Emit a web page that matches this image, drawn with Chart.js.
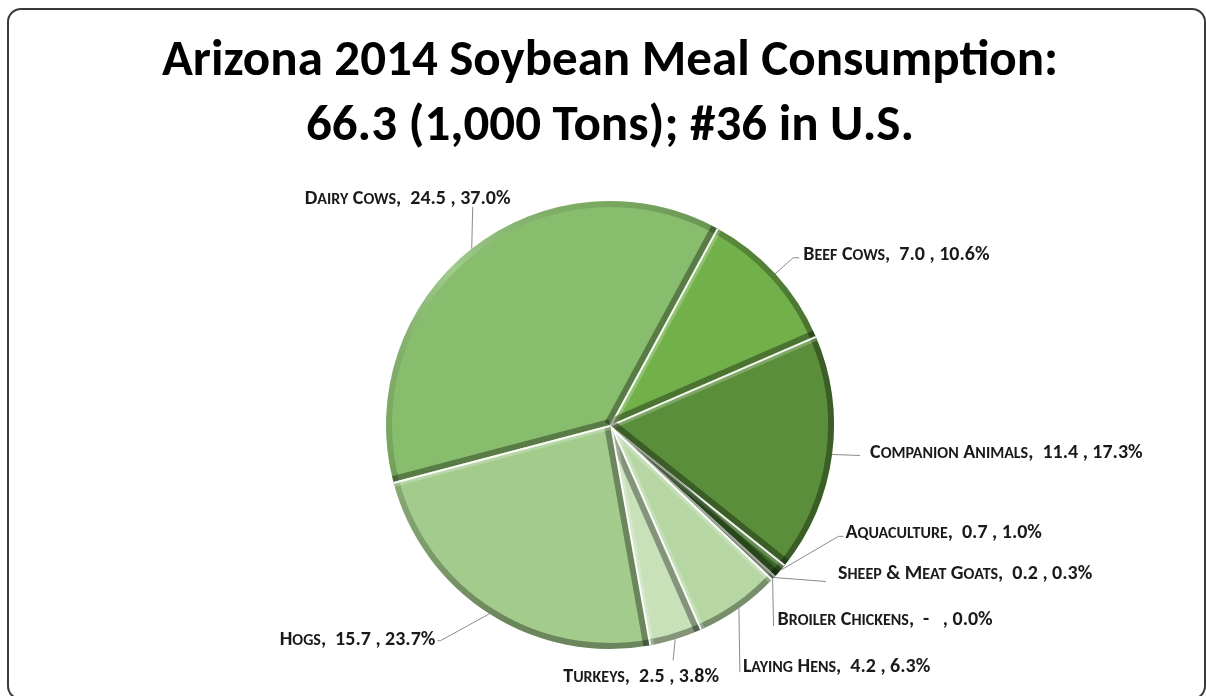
<!DOCTYPE html>
<html>
<head>
<meta charset="utf-8">
<title>Arizona 2014 Soybean Meal Consumption</title>
<script src="https://cdn.jsdelivr.net/npm/chart.js@4.4.1/dist/chart.umd.min.js"></script>
<style>
  html, body { margin: 0; padding: 0; background: #ffffff; }
  #wrap { width: 1206px; height: 696px; position: relative; }
</style>
</head>
<body>
<div id="wrap"><canvas id="chart" width="1206" height="696"></canvas></div>
<script>
// Soybean meal use by animal group, thousand tons
const categories = ['Dairy Cows', 'Beef Cows', 'Companion Animals', 'Aquaculture',
                    'Sheep & Meat Goats', 'Broiler Chickens', 'Laying Hens', 'Turkeys', 'Hogs'];
const tons = [24.5, 7.0, 11.4, 0.7, 0.2, 0, 4.2, 2.5, 15.7];
const shares = ['37.0%', '10.6%', '17.3%', '1.0%', '0.3%', '0.0%', '6.3%', '3.8%', '23.7%'];
const titleLines = ['Arizona 2014 Soybean Meal Consumption:', '66.3 (1,000 Tons); #36 in U.S.'];

// slice fills
const sliceColors = ['#87bd6c', '#72b04a', '#5a8e3a', '#3d6c28', '#8fae82', '#9dbf8a', '#b6d7a3', '#c8e1b9', '#a3cb8c'];

// callout placement relative to the slice's outer mid point:
// text offset, text alignment, and the leader polyline
const callouts = [
  { dx: -167, dy: -52, align: 'left',   leader: [[1, -42]] },
  { dx: 28,   dy: -21, align: 'left',   leader: [[18, -16], [24, -16]] },
  { dx: 38,   dy: -3,  align: 'left',   leader: [[28, 1]] },
  { dx: 65,   dy: -39, align: 'left',   leader: [[58, -34], [63, -34]] },
  { dx: 64,   dy: -6,  align: 'left',   leader: [[52, 4]] },
  { dx: 5,    dy: 39,  align: 'left',   leader: [[1, 47]] },
  { dx: 4,    dy: 57,  align: 'left',   leader: [[1, 64]] },
  { dx: -34,  dy: 36,  align: 'center', leader: [[-2, 21]] },
  { dx: -54,  dy: 24,  align: 'right',  leader: [[-49, 27], [-52, 27]] }
];

const FAMILY = "Carlito, Lato, 'Open Sans', sans-serif";
const LABEL_SIZE = 20;

// white page with a rounded frame
const framePlugin = {
  id: 'frame',
  beforeDraw(chart) {
    const ctx = chart.ctx;
    ctx.save();
    ctx.fillStyle = '#ffffff';
    ctx.fillRect(0, 0, chart.width, chart.height);
    ctx.strokeStyle = '#3a3a3a';
    ctx.lineWidth = 2;
    ctx.beginPath();
    ctx.roundRect(8, 9, 1197, 690, 13);
    ctx.stroke();
    ctx.restore();
  }
};

// soft bevel: a rim band plus lit / shaded radial edges on every slice
const bevelPlugin = {
  id: 'bevel',
  afterDatasetsDraw(chart) {
    const ctx = chart.ctx;
    const meta = chart.getDatasetMeta(0);
    meta.data.forEach((arc) => {
      const { x, y, startAngle, endAngle, outerRadius: R } =
        arc.getProps(['x', 'y', 'startAngle', 'endAngle', 'outerRadius'], true);
      if (endAngle - startAngle < 1e-4) return;
      ctx.save();
      ctx.beginPath();
      ctx.moveTo(x, y);
      ctx.arc(x, y, R, startAngle, endAngle);
      ctx.closePath();
      ctx.clip();

      const g = ctx.createConicGradient(-3 * Math.PI / 4, x, y);
      g.addColorStop(0, 'rgba(255,255,255,0.22)');
      g.addColorStop(0.12, 'rgba(0,0,0,0.10)');
      g.addColorStop(0.3, 'rgba(0,0,0,0.34)');
      g.addColorStop(0.7, 'rgba(0,0,0,0.34)');
      g.addColorStop(0.88, 'rgba(0,0,0,0.10)');
      g.addColorStop(1, 'rgba(255,255,255,0.22)');
      ctx.strokeStyle = g;
      ctx.lineWidth = 12;
      ctx.beginPath();
      ctx.arc(x, y, R, startAngle - 0.05, endAngle + 0.05);
      ctx.stroke();

      const edge = (a, lit) => {
        ctx.beginPath();
        ctx.moveTo(x, y);
        ctx.lineTo(x + R * Math.cos(a), y + R * Math.sin(a));
        if (lit) {
          ctx.strokeStyle = 'rgba(255,255,255,0.22)';
          ctx.lineWidth = 10;
          ctx.stroke();
          ctx.strokeStyle = 'rgba(255,255,255,0.9)';
          ctx.lineWidth = 4;
          ctx.stroke();
        } else {
          ctx.strokeStyle = 'rgba(0,0,0,0.34)';
          ctx.lineWidth = 12;
          ctx.stroke();
        }
      };
      edge(startAngle, Math.cos(startAngle) - Math.sin(startAngle) > 0);
      edge(endAngle, Math.sin(endAngle) - Math.cos(endAngle) > 0);
      ctx.restore();
    });
  }
};

function drawSmallCaps(ctx, text, x, y, size, align) {
  const runs = [];
  for (const ch of text) {
    const small = ch !== ch.toUpperCase();
    const t = small ? ch.toUpperCase() : ch;
    const last = runs[runs.length - 1];
    if (last && last.small === small) last.t += t; else runs.push({ t, small });
  }
  const fontFor = (s) => `bold ${s ? Math.round(size * 0.8) : size}px ${FAMILY}`;
  let w = 0;
  runs.forEach((r) => { ctx.font = fontFor(r.small); r.w = ctx.measureText(r.t).width; w += r.w; });
  let cx = align === 'right' ? x - w : align === 'center' ? x - w / 2 : x;
  ctx.textAlign = 'left';
  ctx.textBaseline = 'alphabetic';
  runs.forEach((r) => { ctx.font = fontFor(r.small); ctx.fillText(r.t, cx, y); cx += r.w; });
}

// data callouts with leader lines
const calloutPlugin = {
  id: 'callouts',
  afterDraw(chart) {
    const ctx = chart.ctx;
    const meta = chart.getDatasetMeta(0);
    ctx.save();
    meta.data.forEach((arc, i) => {
      const { x, y, startAngle, endAngle, outerRadius: R } =
        arc.getProps(['x', 'y', 'startAngle', 'endAngle', 'outerRadius'], true);
      const mid = (startAngle + endAngle) / 2;
      const ax = x + R * Math.cos(mid);
      const ay = y + R * Math.sin(mid);
      const c = callouts[i];
      ctx.strokeStyle = '#8c8c8c';
      ctx.lineWidth = 1;
      ctx.beginPath();
      ctx.moveTo(ax, ay);
      c.leader.forEach(([lx, ly]) => ctx.lineTo(ax + lx, ay + ly));
      ctx.stroke();
      const v = tons[i];
      const valueText = v === 0 ? '-  ' : v.toFixed(1);
      const text = `${categories[i]},  ${valueText} , ${shares[i]}`;
      ctx.fillStyle = '#1a1a1a';
      drawSmallCaps(ctx, text, ax + c.dx, ay + c.dy + Math.round(LABEL_SIZE * 0.36), LABEL_SIZE, c.align);
    });
    ctx.restore();
  }
};

const firstShare = tons[0] / tons.reduce((a, b) => a + b, 0);

new Chart(document.getElementById('chart'), {
  type: 'pie',
  data: {
    labels: categories,
    datasets: [{
      data: tons,
      backgroundColor: sliceColors,
      borderWidth: 0
    }]
  },
  options: {
    responsive: false,
    animation: false,
    // the first slice ends 28.5 degrees past twelve o'clock
    rotation: 28.5 - firstShare * 360,
    layout: { padding: { left: 14, right: 0, top: 0, bottom: 47 } },
    plugins: {
      legend: { display: false },
      tooltip: { enabled: false },
      title: {
        display: true,
        text: titleLines,
        color: '#000000',
        font: { family: FAMILY, size: 51, weight: 'bold', lineHeight: 65 / 51 },
        padding: { top: 30, bottom: 41 }
      }
    }
  },
  plugins: [framePlugin, bevelPlugin, calloutPlugin]
});
</script>
</body>
</html>
